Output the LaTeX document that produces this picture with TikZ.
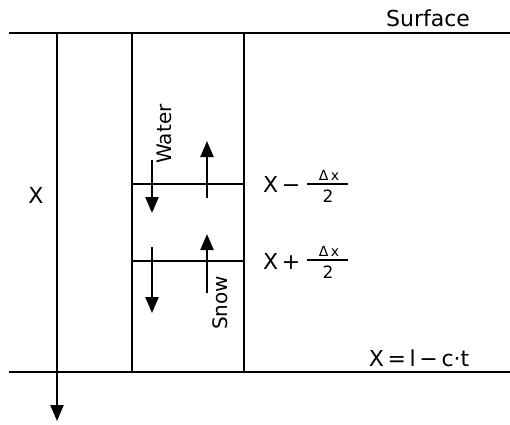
\documentclass[tikz,border=0pt]{standalone}
\usepackage{fontspec}
\setmainfont{DejaVu Sans}
\usepackage{tikz}
\usetikzlibrary{arrows.meta}

\begin{document}
\begin{tikzpicture}[x=1pt, y=1pt, line width=2.3pt,
    >={Triangle[width=13pt,length=16pt]},
    lbl/.style={inner sep=0pt, font=\fontsize{22}{22}\selectfont},
    flow/.style={inner sep=0pt, rotate=90, font=\fontsize{20}{20}\selectfont},
    small/.style={inner sep=0pt, font=\fontsize{14}{14}\selectfont},
    denom/.style={inner sep=0pt, font=\fontsize{17}{17}\selectfont}]
    \useasboundingbox (0,0) rectangle (510,424);

    % surface and front
    \coordinate (topL) at (9,391);   \coordinate (topR) at (510,391);
    \coordinate (botL) at (9,52);    \coordinate (botR) at (510,52);
    \draw (topL) -- (topR);
    \draw (botL) -- (botR);
    \node[lbl] (surface) at (428,406) {Surface};
    \node[lbl] (front) at (419,66) {X\,=\,l\,−\,c·t};

    % depth axis
    \coordinate (axisT) at (57,391); \coordinate (axisB) at (57,3);
    \draw[->] (axisT) -- (axisB);
    \node[lbl] (depth) at (36,229) {X};

    % control column
    \coordinate (colAT) at (132,391); \coordinate (colAB) at (132,52);
    \coordinate (colBT) at (244,391); \coordinate (colBB) at (244,52);
    \draw (colAT) -- (colAB);
    \draw (colBT) -- (colBB);
    \coordinate (upperL) at (132,240); \coordinate (upperR) at (244,240);
    \coordinate (lowerL) at (132,163); \coordinate (lowerR) at (244,163);
    \draw (upperL) -- (upperR);
    \draw (lowerL) -- (lowerR);

    % fluxes
    \coordinate (w1s) at (152,264); \coordinate (w1e) at (152,211);
    \coordinate (s1s) at (207,226); \coordinate (s1e) at (207,283);
    \coordinate (w2s) at (152,177); \coordinate (w2e) at (152,111);
    \coordinate (s2s) at (207,131); \coordinate (s2e) at (207,190);
    \draw[->] (w1s) -- (w1e);
    \draw[->] (s1s) -- (s1e);
    \draw[->] (w2s) -- (w2e);
    \draw[->] (s2s) -- (s2e);
    \node[flow] (water) at (164,290) {Water};
    \node[flow] (snow) at (220,121) {Snow};

    % boundary labels
    \node[lbl, anchor=west] (minus) at (262,240) {X\,−};
    \node[small] (numA) at (329,249) {Δ\,x};
    \node[denom] (denA) at (328,228) {2};
    \coordinate (barAw) at (307,240); \coordinate (barAe) at (348,240);
    \draw (barAw) -- (barAe);

    \node[lbl, anchor=west] (plus) at (262,163) {X\,+};
    \node[small] (numB) at (329,173) {Δ\,x};
    \node[denom] (denB) at (328,152) {2};
    \coordinate (barBw) at (307,164); \coordinate (barBe) at (348,164);
    \draw (barBw) -- (barBe);
\end{tikzpicture}
\end{document}
